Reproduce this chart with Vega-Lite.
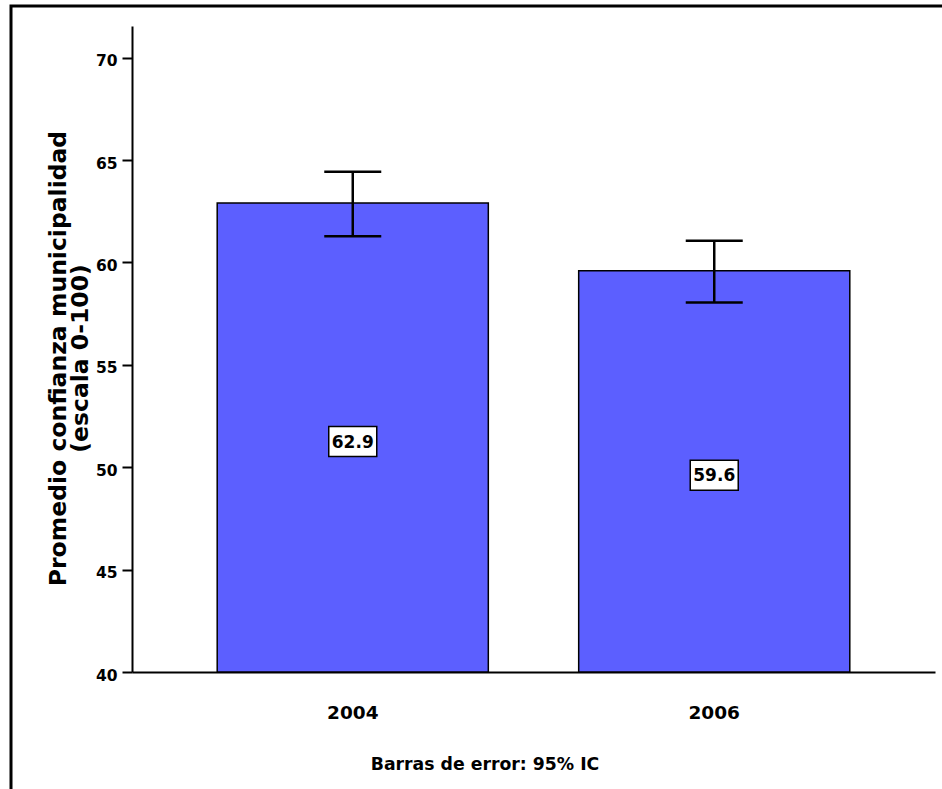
{
  "$schema": "https://vega.github.io/schema/vega-lite/v6.json",
  "autosize": {"type": "none"},
  "width": 941,
  "height": 793,
  "padding": {"left": 11, "top": 6, "right": -10, "bottom": -10},
  "background": "white",
  "config": {
    "view": {"stroke": "black", "strokeWidth": 3},
    "font": "DejaVu Sans",
    "axis": {
      "labelFont": "DejaVu Sans",
      "titleFont": "DejaVu Sans",
      "labelFontWeight": "bold",
      "titleFontWeight": "bold",
      "labelColor": "black",
      "titleColor": "black",
      "domainColor": "black",
      "tickColor": "black",
      "grid": false
    }
  },
  "data": {
    "values": [
      {"year": "2004", "value": 62.9, "lo": 61.28, "hi": 64.43},
      {"year": "2006", "value": 59.6, "lo": 58.05, "hi": 61.06}
    ]
  },
  "transform": [{"calculate": "(datum.value + 40) / 2", "as": "mid"}],
  "encoding": {
    "x": {
      "field": "year",
      "type": "nominal",
      "scale": {"range": [121, 924], "paddingInner": 0.25, "paddingOuter": 0.2357},
      "axis": {
        "orient": "bottom",
        "offset": -127,
        "labelAngle": 0,
        "labelFontSize": 18.5,
        "labelBaseline": "alphabetic",
        "labelPadding": 46,
        "ticks": false,
        "tickSize": 0,
        "domainWidth": 2,
        "title": "Barras de error: 95% IC",
        "titleFontSize": 17.3,
        "titleX": 473.5,
        "titleY": 97,
        "titleAlign": "center",
        "titleBaseline": "alphabetic"
      }
    }
  },
  "layer": [
    {
      "mark": {"type": "bar", "fill": "#5c5fff", "stroke": "black", "strokeWidth": 1.5, "clip": false},
      "encoding": {
        "y": {
          "field": "value",
          "type": "quantitative",
          "scale": {"domain": [40, 71.55], "range": [666, 20], "zero": false, "nice": false},
          "axis": {
            "orient": "left",
            "offset": -121,
            "values": [40, 45, 50, 55, 60, 65, 70],
            "labelFontSize": 15.5,
            "labelPadding": 5,
            "labelOffset": 3,
            "tickSize": 10,
            "tickWidth": 2,
            "domainWidth": 2,
            "title": ["Promedio confianza municipalidad", "(escala 0-100)"],
            "titleFontSize": 23.5,
            "titleLineHeight": 22,
            "titleAngle": -90,
            "titleX": -67,
            "titleY": 352,
            "titleAlign": "center",
            "titleBaseline": "alphabetic"
          }
        },
        "y2": {"datum": 40}
      }
    },
    {
      "mark": {"type": "rule", "stroke": "black", "strokeWidth": 2.5},
      "encoding": {
        "y": {"field": "lo", "type": "quantitative"},
        "y2": {"field": "hi"}
      }
    },
    {
      "mark": {"type": "tick", "color": "black", "size": 57, "thickness": 2.5, "opacity": 1},
      "encoding": {"y": {"field": "hi", "type": "quantitative"}}
    },
    {
      "mark": {"type": "tick", "color": "black", "size": 57, "thickness": 2.5, "opacity": 1},
      "encoding": {"y": {"field": "lo", "type": "quantitative"}}
    },
    {
      "mark": {
        "type": "point",
        "shape": "M-1,-0.625L1,-0.625L1,0.625L-1,0.625Z",
        "size": 2304,
        "filled": true,
        "fill": "white",
        "stroke": "black",
        "strokeWidth": 1.5,
        "opacity": 1,
        "yOffset": 4
      },
      "encoding": {"y": {"field": "mid", "type": "quantitative"}}
    },
    {
      "mark": {
        "type": "text",
        "font": "DejaVu Sans",
        "fontWeight": "bold",
        "fontSize": 17,
        "color": "black",
        "baseline": "middle",
        "align": "center",
        "yOffset": 5
      },
      "encoding": {
        "y": {"field": "mid", "type": "quantitative"},
        "text": {"field": "value", "type": "quantitative", "format": ".1f"}
      }
    }
  ]
}
